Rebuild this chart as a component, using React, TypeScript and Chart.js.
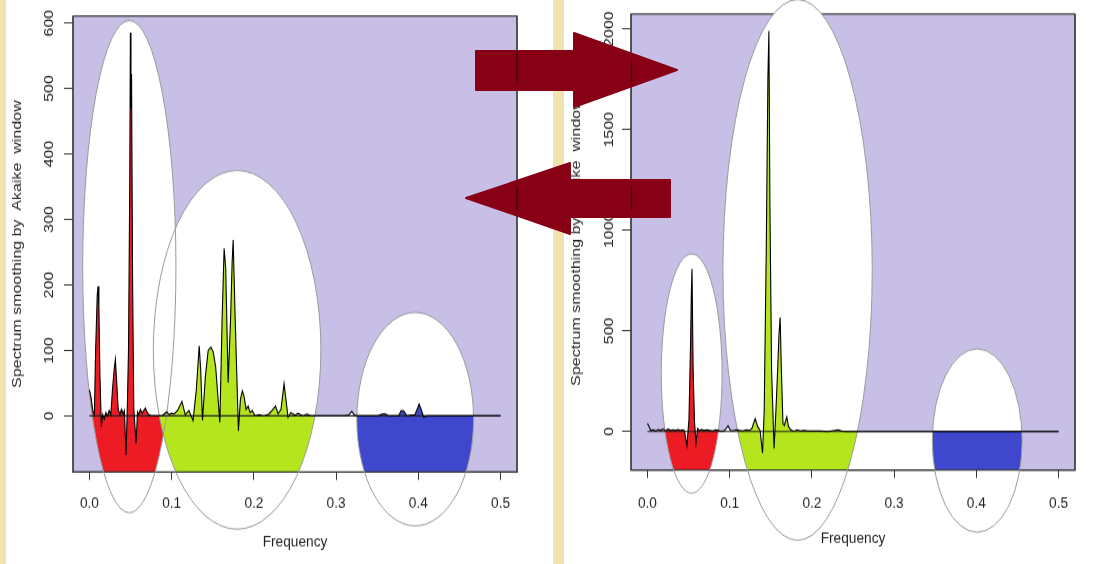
import { useEffect, useRef } from "react";
import { Chart, registerables } from "chart.js";

Chart.register(...registerables);

const PAGE_W = 1101;
const PAGE_H = 564;
// both plots are rendered on a shorter canvas and stretched to full height
const V_STRETCH = 1.17;
const INNER_H = Math.round(PAGE_H / V_STRETCH);

const FONT_FAMILY = "'Liberation Sans', Arial, Helvetica, sans-serif";
const FONT_SIZE = 13.7;
const TEXT = "#1f1f1f";
const AXIS = "#3a3a3a";
const PLOT_BG = "#C8BFE7";
const ELLIPSE_EDGE = "#9b9b9b";
const ARROW_FILL = "#880015";
const STRIP = "#EFE4B0";

const Y_TITLE = "Spectrum smoothing by  Akaike  window";
const X_TITLE = "Frequency";

const freqTicks = [0, 0.1, 0.2, 0.3, 0.4, 0.5];
const freqTickLabels = ["0.0", "0.1", "0.2", "0.3", "0.4", "0.5"];
const freqLimits = [-0.02, 0.52];
const bandColours = ["#ED1C24", "#B5E61D", "#3F48CC"];

// ---- left spectrum ----
const freqA = [
  0.000, 0.002, 0.004, 0.006, 0.0075, 0.0095, 0.0105, 0.0115, 0.0128, 0.0145,
  0.016, 0.018, 0.020, 0.022, 0.024, 0.026, 0.028, 0.030, 0.0315, 0.033,
  0.035, 0.037, 0.039, 0.041, 0.0425, 0.0445, 0.046, 0.0475, 0.049, 0.0498,
  0.0505, 0.0512, 0.0525, 0.054, 0.0567, 0.0585, 0.060, 0.062, 0.064, 0.066,
  0.068, 0.070, 0.072, 0.076, 0.082, 0.088, 0.094, 0.097, 0.100, 0.103,
  0.107, 0.1125, 0.1165, 0.121, 0.126, 0.130, 0.1335, 0.1353, 0.1375, 0.141,
  0.1444, 0.1477, 0.1505, 0.1535, 0.1586, 0.1614, 0.1638, 0.1657, 0.1687, 0.1717,
  0.1735, 0.1748, 0.1772, 0.1812, 0.1836, 0.186, 0.188, 0.1905, 0.193, 0.1954,
  0.1978, 0.2015, 0.206, 0.212, 0.2184, 0.222, 0.2263, 0.2294, 0.233, 0.2367,
  0.239, 0.2415, 0.245, 0.25, 0.2536, 0.2597, 0.2646, 0.2694, 0.279, 0.29,
  0.31, 0.315, 0.319, 0.323, 0.35, 0.356, 0.36, 0.364, 0.376, 0.379,
  0.382, 0.386, 0.396, 0.401, 0.404, 0.4065, 0.41, 0.44, 0.47, 0.5,
];
const specA = [
  40, 28, 8, 2, 100, 185, 198, 165, 60, -17,
  2, -5, 5, 0, 8, 2, 40, 70, 86, 55,
  10, 2, 10, 3, 8, -60, 10, 100, 350, 585,
  470, 522, 200, 10, -42, 6, 2, 10, 4, 8,
  12, 6, 2, 0, 0, 0, 6, 2, 4, 3,
  8, 22, 2, 8, -7, 40, 107, 70, -7, 60,
  100, 105, 98, 75, -10, 150, 256, 226, 51, 150,
  233, 269, 150, -23, 25, 38, 30, 10, 15, 5,
  8, 0, 2, 0, 3, 8, 15, 3, 10, 49,
  25, -2, 5, 1, 4, 0, 3, 0, 0, 0,
  0, 1, 7, 0, 0, 3, 3, 0, 0, 8,
  8, 0, 2, 18, 8, -2, 0, 0, 0, 0,
];
const yTicksA = [0, 100, 200, 300, 400, 500, 600];
// highlighted bands (ellipses) in frequency / spectrum units
const bandCentreA = [0.0485, 0.1796, 0.3962];
const bandHalfWidthA = [0.0567, 0.1019, 0.071];
const bandMidA = [228, 101, -5];
const bandHalfHeightA = [376, 274, 163];

// ---- right spectrum ----
const freqB = [
  0.000, 0.002, 0.004, 0.007, 0.010, 0.013, 0.016, 0.019, 0.022, 0.025,
  0.028, 0.031, 0.034, 0.037, 0.040, 0.043, 0.045, 0.048, 0.0505, 0.0525,
  0.0534, 0.0542, 0.0555, 0.0572, 0.059, 0.061, 0.063, 0.066, 0.069, 0.072,
  0.076, 0.080, 0.083, 0.086, 0.090, 0.094, 0.098, 0.101, 0.104, 0.108,
  0.112, 0.116, 0.120, 0.124, 0.127, 0.131, 0.134, 0.137, 0.140, 0.142,
  0.1445, 0.1465, 0.1477, 0.149, 0.151, 0.154, 0.156, 0.1585, 0.1600, 0.1614,
  0.1628, 0.1648, 0.1665, 0.1695, 0.1715, 0.174, 0.178, 0.182, 0.186, 0.190,
  0.195, 0.200, 0.210, 0.220, 0.228, 0.232, 0.236, 0.240, 0.300, 0.500,
];
const specB = [
  40, 25, 5, 8, 2, 10, 5, 12, 3, 12,
  5, 8, 5, 10, 5, 8, 3, -70, 60, 450,
  684, 808, 320, 50, -58, 15, 5, 10, 5, 8,
  5, 3, 8, 5, 0, 5, 28, 5, 3, 8,
  5, 3, 8, 5, 15, 64, 25, 5, -108, 100,
  900, 1757, 1991, 1100, 300, -85, 80, 320, 484, 567,
  320, 40, 30, 72, 25, 10, 0, 8, 3, 5,
  2, 3, 2, 0, 5, 8, 2, 0, 0, 0,
];
const yTicksB = [0, 500, 1000, 1500, 2000];
const bandCentreB = [0.0538, 0.1826, 0.4011];
const bandHalfWidthB = [0.037, 0.0908, 0.0546];
const bandMidB = [288, 803, -45];
const bandHalfHeightB = [595, 1344, 456];

type Band = { cx: number; rx: number; cy: number; ry: number; colour: string };

type PanelGeometry = {
  left: number;
  width: number;
  plotLeft: number;
  plotRight: number;
  plotTop: number;
  plotBottom: number;
  yLabelPad: number;
  yTitlePad: number;
  xLabelPad: number;
  xTitlePad: number;
};

const geoA: PanelGeometry = {
  left: 0, width: 553, plotLeft: 73, plotRight: 517, plotTop: 16, plotBottom: 472,
  yLabelPad: 3.6, yTitlePad: 9.3, xLabelPad: 12, xTitlePad: 10.6,
};
const geoB: PanelGeometry = {
  left: 564, width: 537, plotLeft: 67, plotRight: 511, plotTop: 14, plotBottom: 470,
  yLabelPad: -2.2, yTitlePad: 3.8, xLabelPad: 13.4, xTitlePad: 13.1,
};

function buildBands(centre: number[], halfWidth: number[], mid: number[], halfHeight: number[]): Band[] {
  return centre.map((c, i) => ({ cx: c, rx: halfWidth[i], cy: mid[i], ry: halfHeight[i], colour: bandColours[i] }));
}

function traceUnderCurve(chart: any, freq: number[], spec: number[]) {
  const { ctx, chartArea, scales } = chart;
  const xs = scales.x;
  const ys = scales.y;
  ctx.beginPath();
  ctx.moveTo(xs.getPixelForValue(freq[0]), chartArea.bottom);
  for (let i = 0; i < freq.length; i++) {
    ctx.lineTo(xs.getPixelForValue(freq[i]), ys.getPixelForValue(spec[i]));
  }
  ctx.lineTo(xs.getPixelForValue(freq[freq.length - 1]), chartArea.bottom);
  ctx.closePath();
}

function traceEllipse(chart: any, b: Band) {
  const { ctx, scales } = chart;
  const cx = scales.x.getPixelForValue(b.cx);
  const cy = scales.y.getPixelForValue(b.cy);
  const rx = Math.abs(scales.x.getPixelForValue(b.cx + b.rx) - cx);
  const ry = Math.abs(scales.y.getPixelForValue(b.cy + b.ry) - cy);
  ctx.beginPath();
  ctx.ellipse(cx, cy, rx, ry, 0, 0, Math.PI * 2);
}

function bandPlugin(freq: number[], spec: number[], bands: Band[]) {
  return {
    id: "frequencyBands",
    beforeDraw(chart: any) {
      const { ctx, chartArea: a, scales } = chart;
      ctx.save();
      ctx.fillStyle = PLOT_BG;
      ctx.fillRect(a.left, a.top, a.width, a.height);
      ctx.lineWidth = 1.2;
      ctx.strokeStyle = AXIS;
      ctx.strokeRect(a.left, a.top, a.width, a.height);

      // white ground under the curve across the banded range
      const x0 = scales.x.getPixelForValue(bands[0].cx);
      const x1 = scales.x.getPixelForValue(bands[bands.length - 1].cx);
      ctx.save();
      ctx.beginPath();
      ctx.rect(x0, a.top, x1 - x0, a.height);
      ctx.clip();
      traceUnderCurve(chart, freq, spec);
      ctx.fillStyle = "#ffffff";
      ctx.fill();
      ctx.restore();

      ctx.fillStyle = "#ffffff";
      for (const b of bands) {
        traceEllipse(chart, b);
        ctx.fill();
      }
      ctx.restore();
    },
    beforeDatasetsDraw(chart: any) {
      const { ctx, chartArea: a } = chart;
      for (const b of bands) {
        ctx.save();
        ctx.beginPath();
        ctx.rect(a.left, a.top, a.width, a.height);
        ctx.clip();
        traceEllipse(chart, b);
        ctx.clip();
        traceUnderCurve(chart, freq, spec);
        ctx.fillStyle = b.colour;
        ctx.fill();
        ctx.restore();
      }
      ctx.save();
      ctx.strokeStyle = AXIS;
      ctx.lineWidth = 1.2;
      ctx.beginPath();
      ctx.moveTo(a.left, a.top);
      ctx.lineTo(a.left, a.bottom);
      ctx.lineTo(a.right, a.bottom);
      ctx.lineTo(a.right, a.top);
      ctx.stroke();
      ctx.strokeStyle = ELLIPSE_EDGE;
      ctx.lineWidth = 1;
      for (const b of bands) {
        traceEllipse(chart, b);
        ctx.stroke();
      }
      ctx.restore();
    },
  };
}

type PanelProps = {
  geo: PanelGeometry;
  freq: number[];
  spec: number[];
  yTicks: number[];
  bands: Band[];
};

function SpectrumPanel({ geo, freq, spec, yTicks, bands }: PanelProps) {
  const ref = useRef<HTMLCanvasElement>(null);

  useEffect(() => {
    const canvas = ref.current;
    if (!canvas) return;
    const lo = Math.min(...spec);
    const hi = Math.max(...spec);
    const ext = 0.04 * (hi - lo);
    const font = { family: FONT_FAMILY, size: FONT_SIZE };
    const top = geo.plotTop / V_STRETCH;
    const bottom = geo.plotBottom / V_STRETCH;

    const chart = new Chart(canvas, {
      type: "line",
      data: {
        datasets: [
          {
            data: freq.map((f, i) => ({ x: f, y: spec[i] })),
            borderColor: "#000000",
            borderWidth: 1.1,
            pointRadius: 0,
            tension: 0,
            fill: false,
          },
          {
            data: [
              { x: freqTicks[0], y: 0 },
              { x: freqTicks[freqTicks.length - 1], y: 0 },
            ],
            borderColor: "#222222",
            borderWidth: 1.1,
            pointRadius: 0,
            fill: false,
          },
        ],
      },
      options: {
        responsive: false,
        animation: false,
        devicePixelRatio: 1,
        layout: {
          padding: { left: 0, top, right: geo.width - geo.plotRight, bottom: 0 },
        },
        plugins: {
          legend: { display: false },
          tooltip: { enabled: false },
        },
        scales: {
          x: {
            type: "linear",
            min: freqLimits[0],
            max: freqLimits[1],
            afterBuildTicks: (s: any) => {
              s.ticks = freqTicks.map((v) => ({ value: v }));
            },
            afterFit: (s: any) => {
              s.height = INNER_H - bottom;
            },
            grid: {
              display: true,
              drawOnChartArea: false,
              drawTicks: true,
              tickLength: 8 / V_STRETCH,
              tickColor: AXIS,
              tickWidth: 1,
            },
            border: { display: false },
            ticks: {
              autoSkip: false,
              maxRotation: 0,
              padding: geo.xLabelPad,
              color: TEXT,
              font,
              callback: (_v: any, i: number) => freqTickLabels[i],
            },
            title: {
              display: true,
              text: X_TITLE,
              color: TEXT,
              font,
              padding: { top: 0, bottom: geo.xTitlePad },
            },
          },
          y: {
            type: "linear",
            min: lo - ext,
            max: hi + ext,
            afterBuildTicks: (s: any) => {
              s.ticks = yTicks.map((v) => ({ value: v }));
            },
            afterFit: (s: any) => {
              s.width = geo.plotLeft;
            },
            grid: {
              display: true,
              drawOnChartArea: false,
              drawTicks: true,
              tickLength: 9,
              tickColor: AXIS,
              tickWidth: 1,
            },
            border: { display: false },
            ticks: {
              autoSkip: false,
              minRotation: 90,
              maxRotation: 90,
              crossAlign: "center",
              padding: geo.yLabelPad,
              color: TEXT,
              font,
              callback: (v: any) => String(v),
            },
            title: {
              display: true,
              text: Y_TITLE,
              color: TEXT,
              font,
              padding: { top: geo.yTitlePad, bottom: 0 },
            },
          },
        },
      } as any,
      plugins: [bandPlugin(freq, spec, bands)],
    });
    return () => chart.destroy();
  }, [geo, freq, spec, yTicks, bands]);

  return (
    <canvas
      ref={ref}
      width={geo.width}
      height={INNER_H}
      style={{ position: "absolute", left: geo.left, top: 0, width: geo.width, height: PAGE_H }}
    />
  );
}

const bandsA = buildBands(bandCentreA, bandHalfWidthA, bandMidA, bandHalfHeightA);
const bandsB = buildBands(bandCentreB, bandHalfWidthB, bandMidB, bandHalfHeightB);

export default function App() {
  return (
    <div
      style={{
        position: "absolute",
        left: 0,
        top: 0,
        width: PAGE_W,
        height: PAGE_H,
        background: "#ffffff",
        overflow: "hidden",
      }}
    >
      <div style={{ position: "absolute", left: 0, top: 0, width: 6, height: PAGE_H, background: STRIP }} />
      <div style={{ position: "absolute", left: 553, top: 0, width: 11, height: PAGE_H, background: STRIP }} />
      <SpectrumPanel geo={geoA} freq={freqA} spec={specA} yTicks={yTicksA} bands={bandsA} />
      <SpectrumPanel geo={geoB} freq={freqB} spec={specB} yTicks={yTicksB} bands={bandsB} />
      <svg
        width={PAGE_W}
        height={PAGE_H}
        style={{ position: "absolute", left: 0, top: 0, pointerEvents: "none" }}
      >
        <polygon
          points="476,51 574,51 574,33 677,70 574,107 574,90 476,90"
          fill={ARROW_FILL}
          stroke={ARROW_FILL}
          strokeWidth={2}
          strokeLinejoin="round"
        />
        <polygon
          points="466,198 570,163 570,180 670,180 670,217 570,217 570,234"
          fill={ARROW_FILL}
          stroke={ARROW_FILL}
          strokeWidth={2}
          strokeLinejoin="round"
        />
        <g stroke="#1a0006" strokeWidth={1.2} opacity={0.8}>
          <line x1={517} y1={51} x2={517} y2={83} />
          <line x1={631.5} y1={60} x2={631.5} y2={82} />
          <line x1={517} y1={187} x2={517} y2={210} />
          <line x1={631.5} y1={186} x2={631.5} y2={210} />
        </g>
      </svg>
    </div>
  );
}
